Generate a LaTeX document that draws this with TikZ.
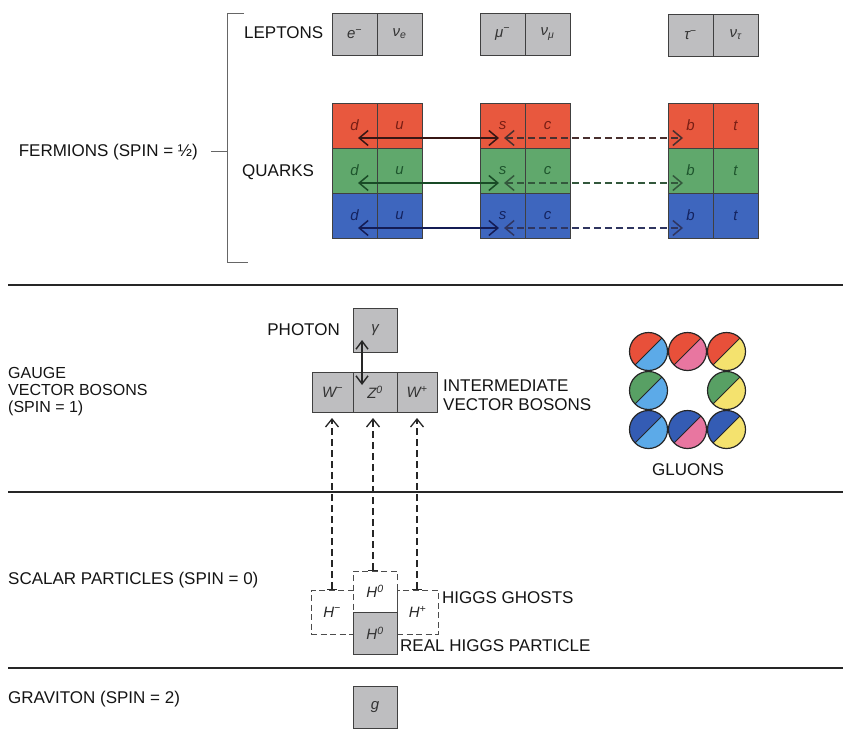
\documentclass[tikz,border=0pt]{standalone}
\usepackage{fontspec}
\setmainfont{Liberation Sans}
\usetikzlibrary{arrows.meta}
\definecolor{qred}{RGB}{232,88,62}
\definecolor{qgreen}{RGB}{96,168,108}
\definecolor{qblue}{RGB}{62,102,190}
\definecolor{lred}{RGB}{120,30,20}
\definecolor{lgreen}{RGB}{30,85,45}
\definecolor{lblue}{RGB}{20,35,95}
\definecolor{ared}{RGB}{55,22,20}
\definecolor{agreen}{RGB}{25,75,38}
\definecolor{ablue}{RGB}{20,28,85}
\definecolor{boxgray}{RGB}{190,190,192}
\definecolor{gred}{RGB}{232,80,58}
\definecolor{ggreen}{RGB}{88,160,100}
\definecolor{gblue}{RGB}{52,92,180}
\definecolor{glblue}{RGB}{92,170,232}
\definecolor{gpink}{RGB}{232,118,160}
\definecolor{gyellow}{RGB}{244,226,110}
\begin{document}
\begin{tikzpicture}[x=1pt,y=-1pt,
  lbl/.style={font=\fontsize{17}{17}\selectfont, inner sep=0pt, text=black!92},
  cell/.style={draw=black!75, line width=1pt, minimum width=45pt, minimum height=45pt,
    inner sep=0pt, font=\fontsize{15}{16}\selectfont\itshape},
  graycell/.style={cell, fill=boxgray, text=black!80},
  ghost/.style={cell, draw=black!70, dash pattern=on 6pt off 3.5pt, text=black!85},
  sep/.style={draw=black!85, line width=2.2pt},
  brk/.style={draw=black!60, line width=0.9pt},
  qarrow/.style={{Straight Barb[length=9pt,width=15pt]}-{Straight Barb[length=9pt,width=15pt]}, line width=1.5pt},
  darr/.style={dash pattern=on 7pt off 4pt},
  higgsline/.style={{Bar[width=10pt,line width=1.3pt]}-{Straight Barb[length=8pt,width=13pt]}, line width=1.3pt, dash pattern=on 7pt off 4pt, draw=black!85},
  gluon/.style 2 args={circle, draw=black!85, line width=1.2pt, minimum size=38pt, inner sep=0pt,
    path picture={
      \fill[#1] (path picture bounding box.north west) -- (path picture bounding box.north east) -- (path picture bounding box.south west) -- cycle;
      \fill[#2] (path picture bounding box.north east) -- (path picture bounding box.south east) -- (path picture bounding box.south west) -- cycle;
      \draw[black!85, line width=1pt] (path picture bounding box.south west) -- (path picture bounding box.north east);}}
]
\useasboundingbox (0,0) rectangle (843,728);

% ---------- Fermions ----------
\draw[brk] (244,13) -- (227,13) -- (227,262) -- (248,262);
\draw[brk] (211,151) -- (227,151);
\node[lbl, anchor=east] (ferm) at (198,152) {FERMIONS (SPIN = ½)};
\node[lbl, anchor=west] (lept) at (244,33) {LEPTONS};
\node[lbl, anchor=west] (quarks) at (242,172) {QUARKS};

% leptons
\node[graycell, minimum height=42pt] (e)   at (354.5,34) {e\textsuperscript{−}};
\node[graycell, minimum height=42pt] (ne)  at (399.5,34) {ν\textsubscript{e}};
\node[graycell, minimum height=42pt] (mu)  at (502.5,34) {μ\textsuperscript{−}};
\node[graycell, minimum height=42pt] (nmu) at (547.5,34) {ν\textsubscript{μ}};
\node[graycell, minimum height=42pt] (tau) at (690.5,35) {τ\textsuperscript{−}};
\node[graycell, minimum height=42pt] (ntau) at (735.5,35) {ν\textsubscript{τ}};

% quarks
\foreach \r/\y/\f/\t/\a in {R/125.5/qred/lred/ared, G/170.5/qgreen/lgreen/agreen, B/215.5/qblue/lblue/ablue}{
  \node[cell, fill=\f, text=\t] (d\r) at (354.5,\y) {d};
  \node[cell, fill=\f, text=\t] (u\r) at (399.5,\y) {u};
  \node[cell, fill=\f, text=\t] (s\r) at (502.5,\y) {s};
  \node[cell, fill=\f, text=\t] (c\r) at (547.5,\y) {c};
  \node[cell, fill=\f, text=\t] (b\r) at (690.5,\y) {b};
  \node[cell, fill=\f, text=\t] (t\r) at (735.5,\y) {t};
  \coordinate (a\r1) at (358,\y+12.5);
  \coordinate (a\r2) at (499,\y+12.5);
  \coordinate (a\r3) at (504,\y+12.5);
  \coordinate (a\r4) at (683,\y+12.5);
  \draw[qarrow, draw=\a] (a\r1) -- (a\r2);
  \draw[qarrow, darr, draw=\a!75!gray] (a\r3) -- (a\r4);
}

\draw[sep] (8,285) -- (843,285);

% ---------- Gauge bosons ----------
\node[lbl, anchor=west, align=left, font=\fontsize{16}{17}\selectfont] (gauge) at (8,392) {GAUGE\\VECTOR BOSONS\\(SPIN = 1)};
\node[lbl, anchor=east] (photonl) at (340,330) {PHOTON};
\node[graycell, minimum width=44pt, minimum height=44pt] (gam) at (375,330) {γ};
\node[graycell, minimum width=41pt, minimum height=40pt] (Wm) at (332.5,392) {W\textsuperscript{−}};
\node[graycell, minimum width=44pt, minimum height=40pt] (Z) at (375,392) {Z\textsuperscript{0}};
\node[graycell, minimum width=40pt, minimum height=40pt] (Wp) at (417,392) {W\textsuperscript{+}};
\node[lbl, anchor=west, align=left, font=\fontsize{17}{19}\selectfont] (ivb) at (443,395.5) {INTERMEDIATE\\VECTOR BOSONS};
\coordinate (ph1) at (362,340);
\coordinate (ph2) at (362,385);
\draw[{Straight Barb[length=8pt,width=12pt]}-{Straight Barb[length=8pt,width=12pt]}, line width=1.4pt, draw=black!85] (ph1) -- (ph2);

% gluons
\node[gluon={gred}{glblue}]    (g11) at (648.5,351.5) {};
\node[gluon={gred}{gpink}]     (g12) at (687.5,351.5) {};
\node[gluon={gred}{gyellow}]   (g13) at (726.5,351.5) {};
\node[gluon={ggreen}{glblue}]  (g21) at (648.5,390.5) {};
\node[gluon={ggreen}{gyellow}] (g23) at (726.5,390.5) {};
\node[gluon={gblue}{glblue}]   (g31) at (648.5,429.5) {};
\node[gluon={gblue}{gpink}]    (g32) at (687.5,429.5) {};
\node[gluon={gblue}{gyellow}]  (g33) at (726.5,429.5) {};
\node[lbl] (gluons) at (688,470) {GLUONS};

\draw[sep] (8,492) -- (843,492);

% ---------- Scalars ----------
\node[lbl, anchor=west] (scalar) at (8,580) {SCALAR PARTICLES (SPIN = 0)};
\node[ghost, minimum width=42pt, minimum height=44pt] (Hm) at (332,612) {H\textsuperscript{−}};
\node[ghost, minimum width=44pt, minimum height=41pt] (Hg) at (375,591.5) {H\textsuperscript{0}};
\node[ghost, minimum width=41pt, minimum height=44pt] (Hp) at (417.5,612) {H\textsuperscript{+}};
\node[graycell, minimum width=44pt, minimum height=42pt] (H0) at (375,633) {H\textsuperscript{0}};
\node[lbl, anchor=west] (ghosts) at (442,598) {HIGGS GHOSTS};
\node[lbl, anchor=west] (real) at (400,646) {REAL HIGGS PARTICLE};

\coordinate (hm1) at (332,590);  \coordinate (hm2) at (332,418);
\coordinate (hz1) at (373,571);  \coordinate (hz2) at (373,418);
\coordinate (hp1) at (417,590);  \coordinate (hp2) at (417,418);
\draw[higgsline] (hm1) -- (hm2);
\draw[higgsline] (hz1) -- (hz2);
\draw[higgsline] (hp1) -- (hp2);

\draw[sep] (8,668) -- (843,668);

% ---------- Graviton ----------
\node[lbl, anchor=west] (grav) at (8,699) {GRAVITON (SPIN = 2)};
\node[graycell, minimum width=44pt, minimum height=42pt] (g) at (375,707) {g};
\end{tikzpicture}
\end{document}
